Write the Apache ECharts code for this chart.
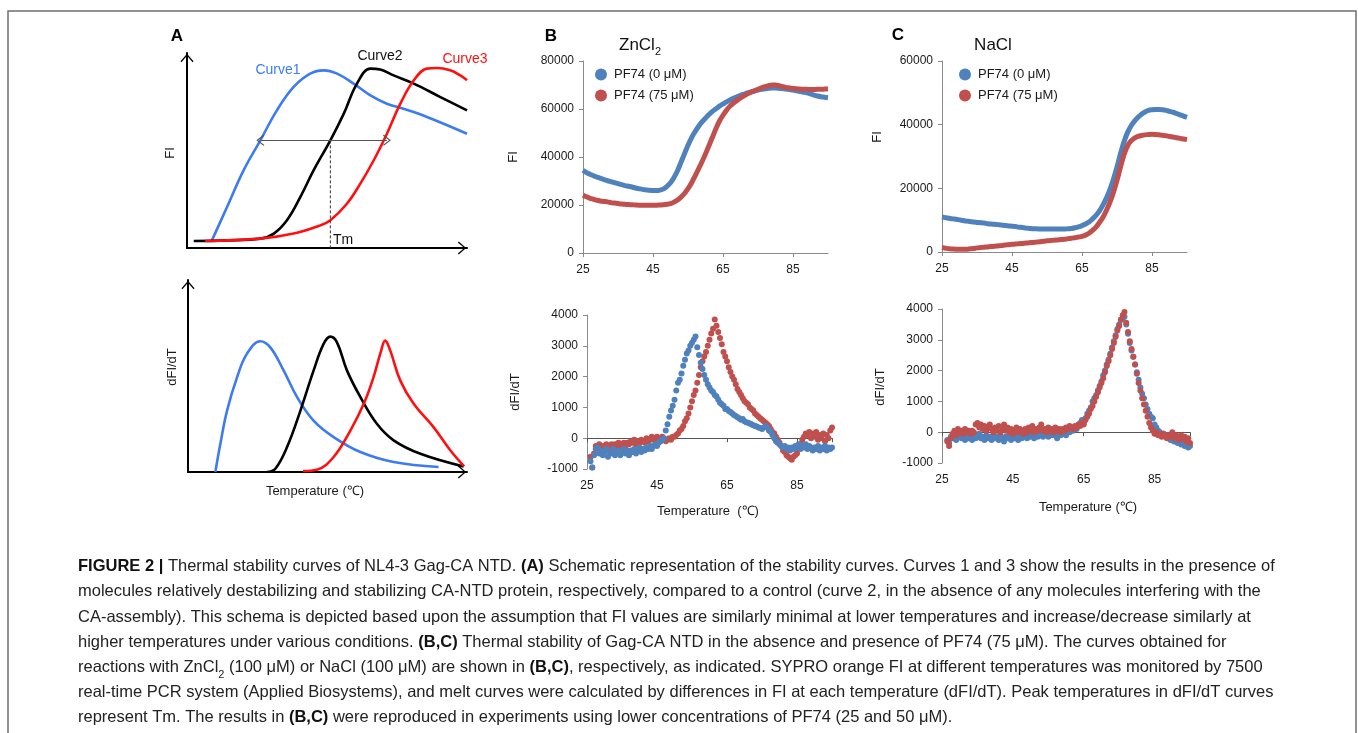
<!DOCTYPE html>
<html><head><meta charset="utf-8">
<script src="https://cdn.jsdelivr.net/npm/echarts@6/dist/echarts.min.js"></script>
<style>html,body{margin:0;padding:0;background:#fff}#c{width:1358px;height:733px}</style>
</head><body><div id="c"></div>
<script>
// ===================== DATA =====================
// Panel A (schematic, arbitrary units 0-100)
const schemaFI_curve1 = [[8.9,3.9],[14.3,21],[20.2,39.8],[26.2,55.2],[32.1,70.6],[38.1,82.6],[44,89.4],[48.8,91.1],[53.6,89.4],[59.5,84.3],[65.5,78.3],[71.4,74],[76.2,71.9],[85.7,67.2],[100,58.6]];
const schemaFI_curve2 = [[2.4,3.6],[14.3,3.9],[26.2,4.8],[31,7.4],[35.7,14.2],[40.5,26.2],[45.2,39.8],[51.2,55.2],[56,68.9],[60.7,84.3],[65.5,92],[69,91.5],[73.8,88.5],[81,84.3],[90.5,77.4],[100,70.6]];
const schemaFI_curve3 = [[6.5,3.6],[26.2,4.8],[38.1,7.4],[47.6,11.6],[51.2,14.2],[57.1,22.7],[61.9,33],[66.7,45],[71.4,58.6],[76.2,74],[81,86],[85.7,92],[89.3,92.3],[94,91.1],[97.6,88.5],[100,86]];
const schemaTmArrow = [[26.2,55.2],[71.4,55.2]];
const schemaTmDrop = [[51.2,55.2],[51.2,0]];
const schemaD_curve1 = [[9.8,0],[11.6,14.7],[14,32],[17.6,49.4],[21.1,61.5],[25.9,68.1],[29.5,64.9],[34.3,52.8],[39.1,39],[45,26.8],[52.2,18.2],[61.8,10.4],[73.7,5.2],[89.8,2.6]];
const schemaD_curve2 = [[28.3,0],[31.3,1.7],[35.5,13],[40.3,32],[45,52.8],[48.6,66.7],[51,70.5],[53.4,67.5],[57,52.8],[61.8,39],[67.7,25.1],[73.7,16.5],[83.3,9.5],[98.8,2.9]];
const schemaD_curve3 = [[41.2,0.5],[46.2,1.2],[52.2,7.8],[58.2,21.6],[63,35.5],[66.5,49.4],[68.9,61.5],[70.7,68.4],[72.5,63.2],[76.1,47.6],[80.9,35.5],[88,23.4],[94,11.3],[99,2.9]];

// Temperatures for FI curves (°C)
const tempsFI = [25,26,27,28,29,30,31,32,33,34,35,36,37,38,39,40,41,42,43,44,45,46,47,48,49,50,51,52,53,54,55,56,57,58,59,60,61,62,63,64,65,66,67,68,69,70,71,72,73,74,75,76,77,78,79,80,81,82,83,84,85,86,87,88,89,90,91,92,93,94,95];
// Panel B: ZnCl2, FI
const fiZn_0 = [34500,33500,32800,32200,31600,31100,30600,30100,29700,29300,28900,28500,28100,27800,27500,27100,26800,26500,26300,26100,26000,26000,26200,26700,27800,29300,31500,34300,37800,41400,44900,48000,50500,52700,54600,56200,57700,59000,60100,61200,62100,63000,63800,64500,65100,65700,66200,66700,67100,67500,67900,68200,68400,68600,68700,68700,68600,68500,68300,68100,67900,67600,67300,67000,66700,66300,65800,65400,65100,64900,64700];
const fiZn_75 = [24100,23400,22800,22400,22000,21700,21500,21300,21000,20800,20600,20400,20300,20200,20100,20000,19900,19900,19900,19900,19900,19900,20000,20100,20300,20600,21200,22100,23300,24800,26800,29200,32000,35000,38000,41300,44800,48300,51900,55000,57400,59500,61200,62500,63600,64600,65500,66300,67000,67600,68200,68800,69300,69700,70000,70000,69700,69300,69000,68800,68600,68400,68300,68200,68200,68100,68100,68200,68200,68300,68400];
// Panel C: NaCl, FI
const fiNa_0 = [11000,10800,10600,10400,10300,10100,9900,9700,9600,9400,9300,9200,9100,8900,8800,8700,8600,8500,8300,8200,8100,8000,7800,7700,7500,7400,7300,7300,7200,7200,7200,7200,7200,7200,7200,7200,7300,7400,7600,7900,8300,8800,9400,10400,11500,12900,14800,17000,19700,22900,26700,30900,34600,37500,39600,41100,42300,43300,44000,44500,44700,44800,44800,44700,44500,44200,43900,43500,43100,42700,42300];
const fiNa_75 = [1400,1200,1000,950,900,900,900,900,1000,1100,1300,1400,1500,1600,1700,1800,1900,2000,2200,2300,2400,2500,2600,2700,2800,2900,3000,3100,3200,3400,3500,3600,3700,3800,3900,4000,4200,4300,4500,4700,4900,5300,5900,6800,7800,9300,10900,13100,15700,18800,22500,26700,30600,33300,34900,35800,36300,36600,36800,36900,37000,36900,36800,36700,36500,36300,36100,35900,35700,35500,35300];

// Panel B: ZnCl2, dFI/dT  [temperature, value]
const dfiZn_0 = [[26,-750],[26.5,-950],[27,-550],[27.5,-350],[28,-300],[28.5,-500],[29,-400],[29.5,-550],[30,-450],[30.5,-350],[31,-600],[31.5,-450],[32,-500],[32.5,-350],[33,-550],[33.5,-450],[34,-400],[34.5,-550],[35,-450],[35.5,-350],[36,-500],[36.5,-400],[37,-550],[37.5,-400],[38,-450],[38.5,-350],[39,-500],[39.5,-400],[40,-300],[40.5,-450],[41,-350],[41.5,-400],[42,-300],[42.5,-350],[43,-250],[43.5,-350],[44,-250],[44.5,-200],[45,-250],[45.5,-150],[46,-100],[46.5,-50],[47,0],[47.5,250],[48,450],[48.5,700],[49,900],[49.5,1050],[50,1250],[50.5,1550],[51,1800],[51.5,1900],[52,2100],[52.5,2350],[53,2550],[53.5,2750],[54,2850],[54.5,3000],[55,3100],[55.5,3200],[56,3300],[56.5,2950],[57,2700],[57.5,2450],[58,2250],[58.5,2050],[59,1900],[59.5,1750],[60,1650],[60.5,1550],[61,1500],[61.5,1400],[62,1350],[62.5,1250],[63,1150],[63.5,1100],[64,1050],[64.5,950],[65,950],[65.5,880],[66,850],[66.5,800],[67,750],[67.5,720],[68,680],[68.5,650],[69,600],[69.5,620],[70,550],[70.5,520],[71,500],[71.5,480],[72,450],[72.5,420],[73,400],[73.5,380],[74,350],[74.5,330],[75,300],[75.5,350],[76,400],[76.5,350],[77,250],[77.5,200],[78,100],[78.5,0],[79,-100],[79.5,-150],[80,-200],[80.5,-250],[81,-300],[81.5,-250],[82,-350],[82.5,-300],[83,-400],[83.5,-300],[84,-350],[84.5,-250],[85,-300],[85.5,-200],[86,-350],[86.5,-250],[87,-300],[87.5,-200],[88,-350],[88.5,-250],[89,-300],[89.5,-400],[90,-300],[90.5,-350],[91,-250],[91.5,-400],[92,-300],[92.5,-350],[93,-250],[93.5,-400],[94,-300],[94.5,-350],[95,-300]];
const dfiZn_75 = [[26,-600],[26.5,-950],[27,-500],[27.5,-250],[28,-300],[28.5,-200],[29,-350],[29.5,-250],[30,-300],[30.5,-200],[31,-350],[31.5,-250],[32,-200],[32.5,-300],[33,-200],[33.5,-250],[34,-150],[34.5,-300],[35,-200],[35.5,-150],[36,-250],[36.5,-150],[37,-200],[37.5,-100],[38,-150],[38.5,-50],[39,-200],[39.5,-100],[40,-150],[40.5,-50],[41,-100],[41.5,-150],[42,0],[42.5,-100],[43,-50],[43.5,50],[44,-50],[44.5,0],[45,50],[45.5,-50],[46,0],[46.5,50],[47,-50],[47.5,-100],[48,-50],[48.5,0],[49,-50],[49.5,50],[50,50],[50.5,100],[51,150],[51.5,250],[52,300],[52.5,400],[53,550],[53.5,650],[54,800],[54.5,1000],[55,1200],[55.5,1400],[56,1550],[56.5,1800],[57,2050],[57.5,2300],[58,2500],[58.5,2650],[59,2800],[59.5,3000],[60,3200],[60.5,3400],[61,3550],[61.5,3850],[62,3650],[62.5,3450],[63,3250],[63.5,3050],[64,2800],[64.5,2650],[65,2500],[65.5,2300],[66,2150],[66.5,2000],[67,1900],[67.5,1750],[68,1600],[68.5,1500],[69,1400],[69.5,1300],[70,1200],[70.5,1150],[71,1100],[71.5,1000],[72,950],[72.5,900],[73,800],[73.5,750],[74,700],[74.5,650],[75,600],[75.5,550],[76,500],[76.5,450],[77,400],[77.5,300],[78,200],[78.5,150],[79,50],[79.5,-50],[80,-150],[80.5,-250],[81,-400],[81.5,-450],[82,-550],[82.5,-600],[83,-650],[83.5,-700],[84,-600],[84.5,-550],[85,-500],[85.5,-350],[86,-200],[86.5,-50],[87,50],[87.5,150],[88,100],[88.5,200],[89,0],[89.5,150],[90,50],[90.5,200],[91,-50],[91.5,100],[92,0],[92.5,150],[93,-100],[93.5,100],[94,0],[94.5,250],[95,350]];
// Panel C: NaCl, dFI/dT
const dfiNa_0 = [[26.5,-250],[27,-350],[27.5,-150],[28,-200],[28.5,-100],[29,-250],[29.5,-150],[30,-100],[30.5,-200],[31,-150],[31.5,-250],[32,-100],[32.5,-200],[33,-150],[33.5,-250],[34,-100],[34.5,-200],[35,-150],[35.5,-50],[36,-200],[36.5,-150],[37,-250],[37.5,-100],[38,-200],[38.5,-150],[39,-250],[39.5,-100],[40,-200],[40.5,-150],[41,-250],[41.5,-100],[42,-200],[42.5,-300],[43,-150],[43.5,-200],[44,-100],[44.5,-250],[45,-150],[45.5,-200],[46,-100],[46.5,-250],[47,-150],[47.5,-200],[48,-50],[48.5,-150],[49,-200],[49.5,-100],[50,-150],[50.5,-50],[51,-200],[51.5,-100],[52,-150],[52.5,-50],[53,-100],[53.5,-150],[54,-50],[54.5,-100],[55,-150],[55.5,0],[56,-100],[56.5,-50],[57,-100],[57.5,-200],[58,-50],[58.5,-100],[59,0],[59.5,-50],[60,-100],[60.5,50],[61,0],[61.5,100],[62,50],[62.5,150],[63,100],[63.5,200],[64,300],[64.5,400],[65,300],[65.5,450],[66,600],[66.5,700],[67,800],[67.5,1000],[68,1100],[68.5,1200],[69,1350],[69.5,1500],[70,1650],[70.5,1850],[71,2000],[71.5,2200],[72,2350],[72.5,2550],[73,2750],[73.5,2950],[74,3150],[74.5,3350],[75,3500],[75.5,3650],[76,3700],[76.5,3750],[77,3500],[77.5,3200],[78,2900],[78.5,2650],[79,2450],[79.5,2200],[80,1950],[80.5,1700],[81,1450],[81.5,1250],[82,1100],[82.5,900],[83,750],[83.5,600],[84,500],[84.5,450],[85,250],[85.5,150],[86,50],[86.5,0],[87,-100],[87.5,-50],[88,-150],[88.5,-100],[89,-200],[89.5,-250],[90,-150],[90.5,-300],[91,-250],[91.5,-350],[92,-300],[92.5,-400],[93,-350],[93.5,-450],[94,-400],[94.5,-500],[95,-450]];
const dfiNa_75 = [[26.5,-300],[27,-450],[27.5,-200],[28,-50],[28.5,50],[29,-100],[29.5,100],[30,0],[30.5,50],[31,-50],[31.5,100],[32,0],[32.5,50],[33,-50],[33.5,50],[34,0],[34.5,250],[35,300],[35.5,150],[36,250],[36.5,100],[37,200],[37.5,50],[38,150],[38.5,250],[39,100],[39.5,0],[40,150],[40.5,50],[41,200],[41.5,0],[42,100],[42.5,250],[43,50],[43.5,150],[44,0],[44.5,100],[45,-50],[45.5,50],[46,150],[46.5,0],[47,100],[47.5,50],[48,-50],[48.5,100],[49,0],[49.5,150],[50,50],[50.5,200],[51,0],[51.5,100],[52,50],[52.5,150],[53,250],[53.5,50],[54,100],[54.5,0],[55,150],[55.5,50],[56,100],[56.5,0],[57,150],[57.5,50],[58,100],[58.5,0],[59,100],[59.5,50],[60,150],[60.5,100],[61,200],[61.5,150],[62,100],[62.5,200],[63,150],[63.5,250],[64,200],[64.5,300],[65,250],[65.5,400],[66,500],[66.5,600],[67,750],[67.5,850],[68,1000],[68.5,1150],[69,1300],[69.5,1450],[70,1600],[70.5,1750],[71,1950],[71.5,2150],[72,2300],[72.5,2500],[73,2700],[73.5,2900],[74,3100],[74.5,3300],[75,3450],[75.5,3650],[76,3800],[76.5,3900],[77,3550],[77.5,3250],[78,2950],[78.5,2700],[79,2450],[79.5,2200],[80,1900],[80.5,1600],[81,1350],[81.5,1100],[82,900],[82.5,700],[83,500],[83.5,300],[84,150],[84.5,50],[85,-50],[85.5,0],[86,-100],[86.5,-50],[87,-150],[87.5,-50],[88,-100],[88.5,-200],[89,-100],[89.5,-150],[90,0],[90.5,-200],[91,-100],[91.5,-150],[92,-250],[92.5,-100],[93,-200],[93.5,-150],[94,-300],[94.5,-200],[95,-350]];

const legendNames = ['PF74 (0 μM)', 'PF74 (75 μM)'];

// ===================== STYLE =====================
const FONT = "'Liberation Sans', Arial, Helvetica, sans-serif";
const BLUE = '#4F81BD', RED = '#C0504D';
const A_BLUE = '#3D7BF2', A_RED = '#FF1010', A_BLACK = '#000000';
const CHEVRON = 'path://M0,0L7,8L6,9L0,2L-6,9L-7,8Z';

function zipT(vals) { return tempsFI.map((t, i) => [t, vals[i]]); }
const plainNum = v => String(v);

function schemaX(grid) {
  return { gridIndex: grid, type: 'value', min: 0, max: 100,
    axisLine: { lineStyle: { color: '#000', width: 2 }, symbol: ['none', CHEVRON], symbolSize: [13, 10], symbolOffset: [0, -5] },
    axisTick: { show: false }, axisLabel: { show: false }, splitLine: { show: false } };
}
const labelStyle = { fontSize: 12, color: '#1a1a1a', fontFamily: FONT, formatter: plainNum };
function tempAxis(grid, extra) {
  return Object.assign({ gridIndex: grid, type: 'value', min: 25, max: 95, interval: 20,
    axisLine: { onZero: false, lineStyle: { color: '#8a8a8a' } },
    axisTick: { show: true, length: 4, lineStyle: { color: '#8a8a8a' } },
    axisLabel: Object.assign({ margin: 11, showMaxLabel: false }, labelStyle),
    splitLine: { show: false } }, extra || {});
}
function valAxis(grid, min, max, interval) {
  return { gridIndex: grid, type: 'value', min: min, max: max, interval: interval,
    axisLine: { show: true, onZero: false, lineStyle: { color: '#8a8a8a' } },
    axisTick: { show: true, length: 4, lineStyle: { color: '#8a8a8a' } },
    axisLabel: Object.assign({ margin: 9 }, labelStyle),
    splitLine: { show: false } };
}
function zeroLine(grid) {
  return { gridIndex: grid, type: 'value', min: 25, max: 95, interval: 20, position: 'top',
    axisLine: { onZero: true, lineStyle: { color: '#555' } },
    axisTick: { show: true, inside: true, length: 4, lineStyle: { color: '#555' } },
    axisLabel: { show: false }, splitLine: { show: false } };
}
function schemaLine(name, data, color, xi) {
  return { name: name, type: 'line', xAxisIndex: xi, yAxisIndex: xi, data: data, smooth: 0.4,
    showSymbol: false, silent: true, lineStyle: { color: color, width: 2.6 }, itemStyle: { color: color } };
}
function fiLine(name, vals, color, xi, yi) {
  return { name: name, type: 'line', xAxisIndex: xi, yAxisIndex: yi, data: zipT(vals), smooth: 0.3,
    showSymbol: false, silent: true, lineStyle: { color: color, width: 5 }, itemStyle: { color: color } };
}
function dfiScatter(name, data, color, xi, yi) {
  return { name: name, type: 'scatter', xAxisIndex: xi, yAxisIndex: yi, data: data, symbolSize: 6,
    silent: true, itemStyle: { color: color, opacity: 1 } };
}

const captionLines = [
  '{b|FIGURE 2 |} Thermal stability curves of NL4-3 Gag-CA NTD. {b|(A)} Schematic representation of the stability curves. Curves 1 and 3 show the results in the presence of',
  'molecules relatively destabilizing and stabilizing CA-NTD protein, respectively, compared to a control (curve 2, in the absence of any molecules interfering with the',
  'CA-assembly). This schema is depicted based upon the assumption that FI values are similarly minimal at lower temperatures and increase/decrease similarly at',
  'higher temperatures under various conditions. {b|(B,C)} Thermal stability of Gag-CA NTD in the absence and presence of PF74 (75 μM). The curves obtained for',
  'reactions with ZnCl{s|2} (100 μM) or NaCl (100 μM) are shown in {b|(B,C)}, respectively, as indicated. SYPRO orange FI at different temperatures was monitored by 7500',
  'real-time PCR system (Applied Biosystems), and melt curves were calculated by differences in FI at each temperature (dFI/dT). Peak temperatures in dFI/dT curves',
  'represent Tm. The results in {b|(B,C)} were reproduced in experiments using lower concentrations of PF74 (25 and 50 μM).'
];
const CAP_SIZE = 16.5;

function txt(x, y, text, opts) {
  opts = opts || {};
  return { type: 'text', x: x, y: y, rotation: opts.rot || 0, silent: true,
    style: { text: text, x: 0, y: 0, textAlign: opts.align || 'center', textVerticalAlign: 'middle',
      fontSize: opts.size || 13, fontFamily: FONT, fontWeight: opts.weight || 'normal', fill: opts.color || '#1a1a1a' } };
}
function subTitle(x, y, main, sub) {
  return { type: 'text', x: x, y: y, silent: true,
    style: { text: '{m|' + main + '}' + (sub ? '{s|' + sub + '}' : ''), x: 0, y: 0, textAlign: 'center', textVerticalAlign: 'middle',
      fontSize: 17, fontFamily: FONT, fill: '#111',
      rich: { m: { fontSize: 17, fontFamily: FONT, fill: '#111', lineHeight: 24 },
              s: { fontSize: 11, fontFamily: FONT, fill: '#111', lineHeight: 12, verticalAlign: 'bottom' } } } };
}

const chart = echarts.init(document.getElementById('c'), null, { renderer: 'canvas' });
chart.setOption({
  animation: false,
  backgroundColor: '#ffffff',
  grid: [
    { left: 187, top: 53, width: 280, height: 195 },   // A top
    { left: 188, top: 280, width: 279, height: 192 },  // A bottom
    { left: 583, top: 61, width: 245, height: 192 },   // B top
    { left: 587, top: 315, width: 245, height: 154 },  // B bottom
    { left: 942, top: 61, width: 245, height: 191 },   // C top
    { left: 942, top: 309, width: 248, height: 154 }   // C bottom
  ],
  xAxis: [
    schemaX(0), schemaX(1),
    tempAxis(2),
    tempAxis(3, { axisLine: { show: false, onZero: false }, axisTick: { show: false } }),
    zeroLine(3),
    tempAxis(4),
    tempAxis(5, { axisLine: { show: false, onZero: false }, axisTick: { show: false } }),
    zeroLine(5)
  ],
  yAxis: [
    schemaX(0), schemaX(1),
    valAxis(2, 0, 80000, 20000),
    valAxis(3, -1000, 4000, 1000),
    valAxis(4, 0, 60000, 20000),
    valAxis(5, -1000, 4000, 1000)
  ],
  legend: [
    { data: legendNames, left: 590, top: 63, orient: 'vertical', icon: 'circle', itemWidth: 12, itemHeight: 12, itemGap: 8,
      selectedMode: false, textStyle: { fontSize: 13, color: '#1a1a1a', fontFamily: FONT, padding: [0, 0, 0, 2] } },
    { data: legendNames, left: 954, top: 63, orient: 'vertical', icon: 'circle', itemWidth: 12, itemHeight: 12, itemGap: 8,
      selectedMode: false, textStyle: { fontSize: 13, color: '#1a1a1a', fontFamily: FONT, padding: [0, 0, 0, 2] } }
  ],
  series: [
    // Panel A top
    schemaLine('Curve1', schemaFI_curve1, A_BLUE, 0),
    Object.assign(schemaLine('Curve2', schemaFI_curve2, A_BLACK, 0), {
      markLine: { silent: true, symbol: [CHEVRON, CHEVRON], symbolSize: [11, 8],
        lineStyle: { color: '#555', width: 1, type: 'solid' }, label: { show: false },
        data: [[{ coord: schemaTmArrow[0] }, { coord: schemaTmArrow[1] }]] } }),
    schemaLine('Curve3', schemaFI_curve3, A_RED, 0),
    { name: 'Tm', type: 'line', xAxisIndex: 0, yAxisIndex: 0, data: schemaTmDrop, showSymbol: false, silent: true,
      lineStyle: { color: '#333', width: 1, type: [3, 2] } },
    // Panel A bottom
    schemaLine('Curve1 d', schemaD_curve1, A_BLUE, 1),
    schemaLine('Curve2 d', schemaD_curve2, A_BLACK, 1),
    schemaLine('Curve3 d', schemaD_curve3, A_RED, 1),
    // Panel B
    fiLine(legendNames[0], fiZn_0, BLUE, 2, 2),
    fiLine(legendNames[1], fiZn_75, RED, 2, 2),
    dfiScatter(legendNames[1], dfiZn_75, RED, 3, 3),
    dfiScatter(legendNames[0], dfiZn_0, BLUE, 3, 3),
    // Panel C
    fiLine(legendNames[0], fiNa_0, BLUE, 5, 4),
    fiLine(legendNames[1], fiNa_75, RED, 5, 4),
    dfiScatter(legendNames[0], dfiNa_0, BLUE, 6, 5),
    dfiScatter(legendNames[1], dfiNa_75, RED, 6, 5)
  ],
  graphic: [
    { type: 'polyline', silent: true, shape: { points: [[8, 745], [8, 11], [1356, 11], [1356, 745]] },
      style: { stroke: '#6e6e6e', lineWidth: 1.5, fill: null } },
    txt(177, 36, 'A', { size: 17, weight: 'bold', color: '#000' }),
    txt(551, 36, 'B', { size: 17, weight: 'bold', color: '#000' }),
    txt(898, 35, 'C', { size: 17, weight: 'bold', color: '#000' }),
    subTitle(640, 45, 'ZnCl', '2'),
    subTitle(993, 45, 'NaCl', ''),
    txt(278, 70, 'Curve1', { size: 14, color: A_BLUE }),
    txt(380, 56, 'Curve2', { size: 14, color: '#111' }),
    txt(465, 59, 'Curve3', { size: 14, color: A_RED }),
    txt(343, 240, 'Tm', { size: 14, color: '#111' }),
    txt(170, 153, 'FI', { rot: Math.PI / 2 }),
    txt(172, 367, 'dFI/dT', { rot: Math.PI / 2 }),
    txt(315, 491, 'Temperature (℃)'),
    txt(513, 157, 'FI', { rot: Math.PI / 2 }),
    txt(877, 137, 'FI', { rot: Math.PI / 2 }),
    txt(515, 392, 'dFI/dT', { rot: Math.PI / 2 }),
    txt(880, 387, 'dFI/dT', { rot: Math.PI / 2 }),
    txt(708, 511, 'Temperature  (℃)'),
    txt(1088, 507, 'Temperature (℃)'),
    { type: 'text', x: 78, y: 554, silent: true,
      style: { text: captionLines.join('\n'), x: 0, y: 0, textAlign: 'left', textVerticalAlign: 'top',
        fontSize: CAP_SIZE, fontFamily: FONT, fill: '#222', lineHeight: 25.2,
        rich: {
          b: { fontSize: CAP_SIZE, fontFamily: FONT, fontWeight: 'bold', fill: '#111', lineHeight: 25.2 },
          s: { fontSize: 11, fontFamily: FONT, fill: '#222', lineHeight: 14, verticalAlign: 'bottom' }
        } } }
  ]
});
</script>
</body></html>
